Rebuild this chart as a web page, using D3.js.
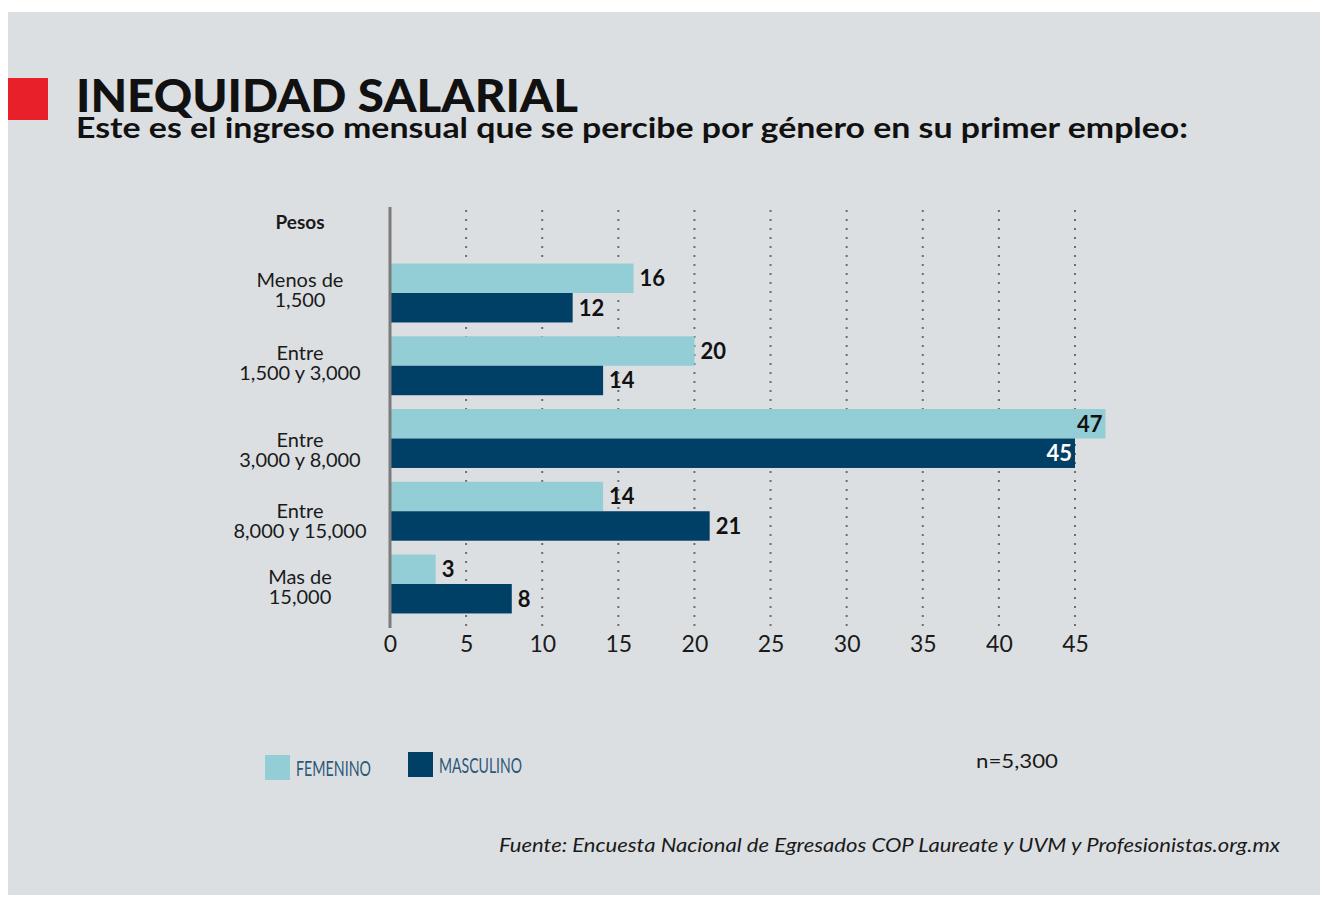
<!DOCTYPE html>
<html>
<head>
<meta charset="utf-8">
<script src="https://cdn.jsdelivr.net/npm/d3@7"></script>
<style>
  body { margin: 0; background: #fff; }
  svg text { font-family: "Lato", "Open Sans", sans-serif; }
</style>
</head>
<body>
<svg width="1329" height="898"></svg>
<script>
const width = 1329, height = 898;
const svg = d3.select("svg");

// Data
const categories = ["Menos de|1,500", "Entre|1,500 y 3,000", "Entre|3,000 y 8,000", "Entre|8,000 y 15,000", "Mas de|15,000"];
const series = ["FEMENINO", "MASCULINO"];
const femenino = [16, 20, 47, 14, 3];
const masculino = [12, 14, 45, 21, 8];
const xTicks = [0, 5, 10, 15, 20, 25, 30, 35, 40, 45];

const colors = { FEMENINO: "#93cdd5", MASCULINO: "#003f66" };
// the original's row labels sit a little below their bars for the lower rows
const labelNudge = [0, 0, 14, 13, 6];

const rows = categories.map((c, i) => ({ cat: c, FEMENINO: femenino[i], MASCULINO: masculino[i] }));

// background panel
svg.append("rect")
    .attr("x", 8).attr("y", 12)
    .attr("width", 1312).attr("height", 883)
    .attr("fill", "#dcdfe2");

// red block + titles
svg.append("rect")
    .attr("x", 8).attr("y", 78)
    .attr("width", 40).attr("height", 42)
    .attr("fill", "#e8202a");

svg.append("text")
    .attr("x", 76).attr("y", 112)
    .attr("textLength", 502).attr("lengthAdjust", "spacingAndGlyphs")
    .style("font-size", "46px")
    .style("font-weight", "900")
    .style("fill", "#111")
    .text("INEQUIDAD SALARIAL");

svg.append("text")
    .attr("x", 76).attr("y", 138)
    .attr("textLength", 1112).attr("lengthAdjust", "spacingAndGlyphs")
    .style("font-size", "29px")
    .style("font-weight", "bold")
    .style("fill", "#111")
    .text("Este es el ingreso mensual que se percibe por género en su primer empleo:");

// Scales
const x = d3.scaleLinear().domain([0, 45]).range([390, 1075]);

const y = d3.scaleBand()
    .domain(categories)
    .range([257, 620])
    .paddingInner(0.19)
    .paddingOuter(0.09);

const ySub = d3.scaleBand()
    .domain(series)
    .range([0, y.bandwidth()]);

// dotted gridlines
svg.append("g")
    .selectAll("line")
    .data(xTicks.filter(d => d > 0))
    .enter().append("line")
    .attr("x1", d => x(d)).attr("x2", d => x(d))
    .attr("y1", 210).attr("y2", 628)
    .attr("stroke", "#6d6d6d")
    .attr("stroke-width", 2)
    .attr("stroke-dasharray", "2,7");

// bars
const groups = svg.append("g")
    .selectAll("g")
    .data(rows)
    .enter().append("g")
    .attr("transform", d => `translate(0,${y(d.cat)})`);

groups.selectAll("rect")
    .data(d => series.map(s => ({ key: s, value: d[s] })))
    .enter().append("rect")
    .attr("x", x(0))
    .attr("y", d => ySub(d.key))
    .attr("width", d => x(d.value) - x(0))
    .attr("height", ySub.bandwidth())
    .attr("fill", d => colors[d.key]);

// value labels (the two long bars get theirs inside)
groups.selectAll(".val")
    .data(d => series.map(s => ({ key: s, value: d[s] })))
    .enter().append("text")
    .attr("class", "val")
    .attr("x", d => d.value > 40 ? x(d.value) - 3 : x(d.value) + 6)
    .attr("y", d => ySub(d.key) + ySub.bandwidth() / 2)
    .attr("dy", "0.36em")
    .attr("text-anchor", d => d.value > 40 ? "end" : "start")
    .style("font-size", "22px")
    .style("font-weight", "bold")
    .style("fill", d => d.value > 40 && d.key === "MASCULINO" ? "#fff" : "#111")
    .text(d => d.value);

// vertical axis line
svg.append("line")
    .attr("x1", x(0)).attr("x2", x(0))
    .attr("y1", 207).attr("y2", 628)
    .attr("stroke", "#7c7c7c")
    .attr("stroke-width", 3);

// category labels
svg.append("text")
    .attr("x", 300).attr("y", 229)
    .attr("text-anchor", "middle")
    .style("font-size", "19px")
    .style("font-weight", "bold")
    .style("fill", "#1a1a1a")
    .text("Pesos");

const catLabels = svg.append("g")
    .selectAll("text")
    .data(categories)
    .enter().append("text")
    .attr("x", 300)
    .attr("y", (d, i) => y(d) + y.bandwidth() / 2 - 3 + labelNudge[i])
    .attr("text-anchor", "middle")
    .style("font-size", "20px")
    .style("fill", "#1a1a1a");

catLabels.selectAll("tspan")
    .data(d => d.split("|"))
    .enter().append("tspan")
    .attr("x", 300)
    .attr("dy", (d, i) => i === 0 ? "-0.15em" : "1.0em")
    .text(d => d);

// x axis
svg.append("g")
    .attr("transform", "translate(0,628)")
    .call(d3.axisBottom(x).tickValues(xTicks).tickSize(0).tickPadding(8))
    .call(g => g.select(".domain").remove())
    .selectAll(".tick text")
    .style("font-family", "Lato, sans-serif")
    .style("font-size", "23px")
    .style("fill", "#1a1a1a");

// legend
const legend = svg.append("g");
const legendPos = [{ key: "FEMENINO", x: 265, y: 755, tl: 75 }, { key: "MASCULINO", x: 408, y: 752, tl: 83 }];

legend.selectAll("rect")
    .data(legendPos)
    .enter().append("rect")
    .attr("x", d => d.x).attr("y", d => d.y)
    .attr("width", 25).attr("height", 25)
    .attr("fill", d => colors[d.key]);

legend.selectAll("text")
    .data(legendPos)
    .enter().append("text")
    .attr("x", d => d.x + 31)
    .attr("y", d => d.y + 21)
    .attr("textLength", d => d.tl)
    .attr("lengthAdjust", "spacingAndGlyphs")
    .style("font-size", "22px")
    .style("fill", "#2c5878")
    .text(d => d.key);

// sample size
svg.append("text")
    .attr("x", 976).attr("y", 768)
    .attr("textLength", 82).attr("lengthAdjust", "spacingAndGlyphs")
    .style("font-size", "19px")
    .style("fill", "#1a1a1a")
    .text("n=5,300");

// source
svg.append("text")
    .attr("x", 499).attr("y", 852)
    .attr("textLength", 781).attr("lengthAdjust", "spacingAndGlyphs")
    .style("font-size", "19px")
    .style("font-style", "italic")
    .style("fill", "#1a1a1a")
    .text("Fuente: Encuesta Nacional de Egresados COP Laureate y UVM y Profesionistas.org.mx");
</script>
</body>
</html>
